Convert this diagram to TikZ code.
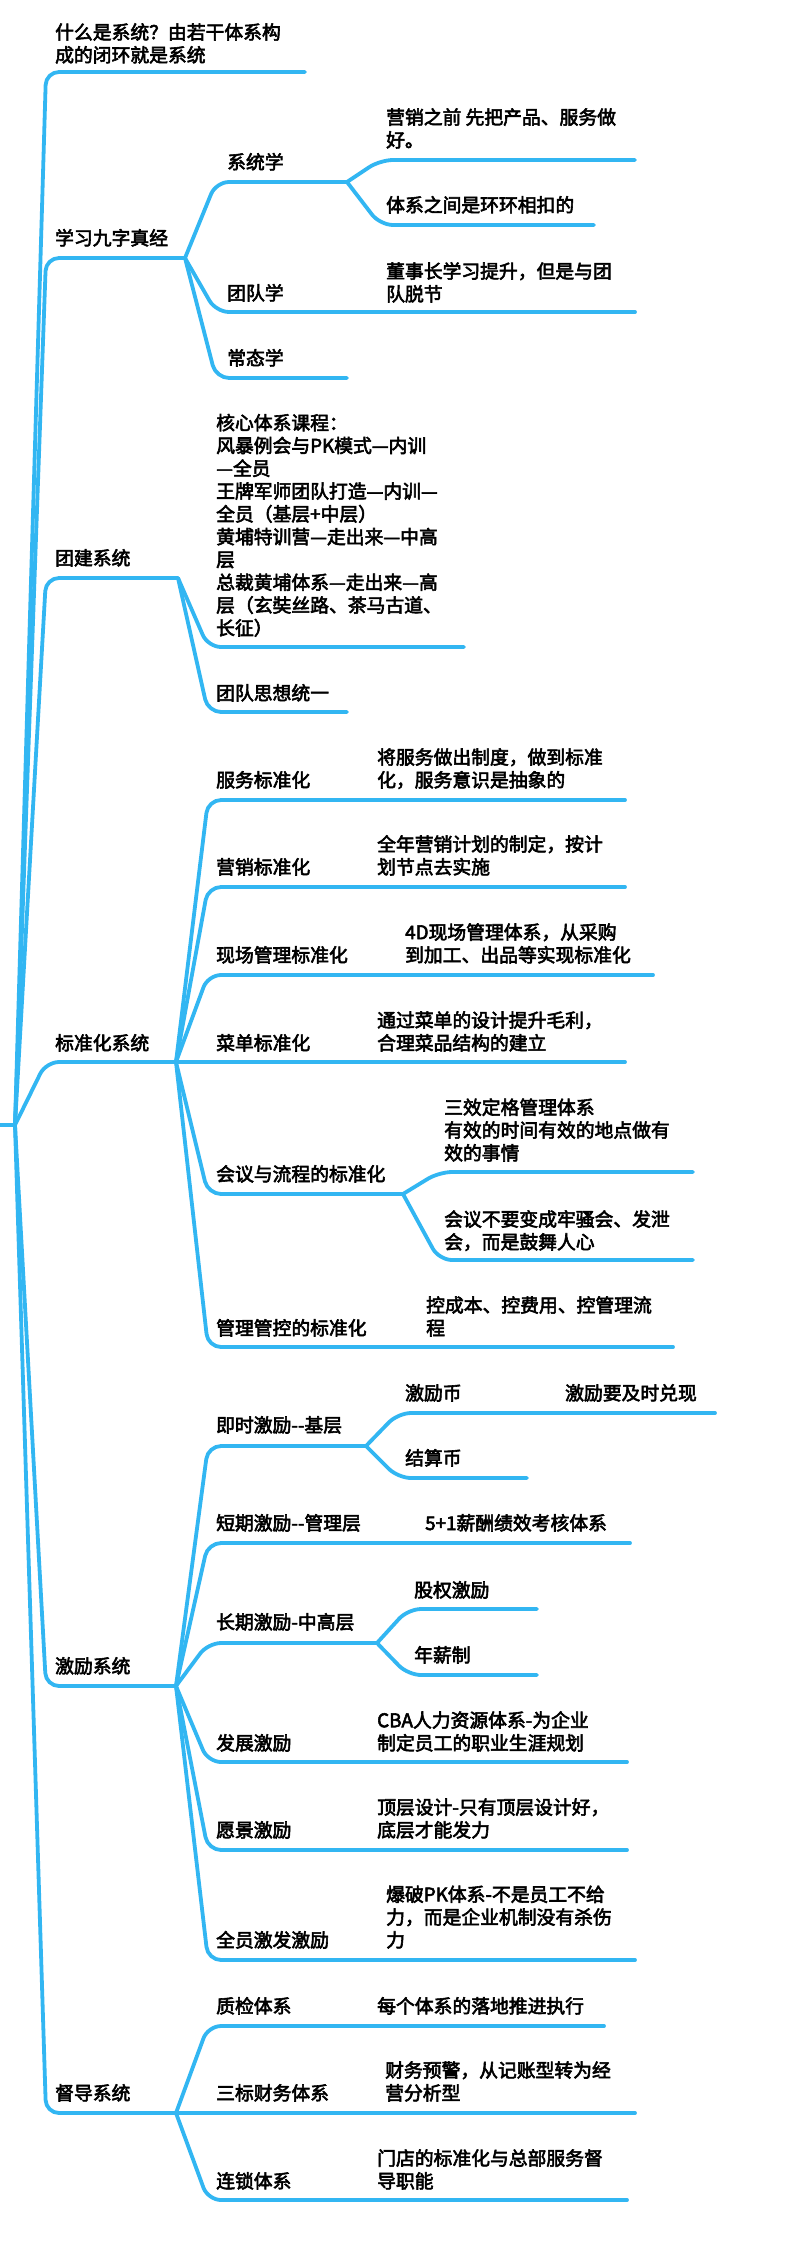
\documentclass[tikz,border=0pt]{standalone}
\usepackage{fontspec}
\setmainfont{Noto Sans CJK SC}[FakeBold=3]
\definecolor{mblue}{RGB}{50,182,242}
\tikzset{
  br/.style={draw=mblue, line width=3.8pt, line cap=round, line join=round, rounded corners=13pt},
  lbl/.style={anchor=base west, inner sep=0pt, align=left, font=\fontsize{18.8}{22.8}\selectfont},
}
\begin{document}
\begin{tikzpicture}[x=1pt,y=-1pt]
\useasboundingbox (0,0) rectangle (800,2264);
\fill[white] (0,0) rectangle (800,2264);

% ---------- coordinates ----------
\coordinate (rootL) at (0,1125);
\coordinate (root) at (15,1125);

\coordinate (a1s) at (46,72);   \coordinate (a1e) at (305,72);
\coordinate (a2s) at (46,258);  \coordinate (a2e) at (185,258);
\coordinate (a3s) at (46,578);  \coordinate (a3e) at (178,578);
\coordinate (a4s) at (46,1062); \coordinate (a4e) at (176,1062);
\coordinate (a5s) at (46,1686); \coordinate (a5e) at (176,1686);
\coordinate (a6s) at (46,2113); \coordinate (a6e) at (176,2113);

\coordinate (b1s) at (216,182); \coordinate (b1e) at (347,182);
\coordinate (b2s) at (216,312); \coordinate (b2e) at (350,312);
\coordinate (b3s) at (216,378); \coordinate (b3e) at (347,378);
\coordinate (c1s) at (380,160); \coordinate (c1e) at (635,160);
\coordinate (c2s) at (380,225); \coordinate (c2e) at (594,225);
\coordinate (c3e) at (635,312);

\coordinate (b4s) at (208,647); \coordinate (b4e) at (464,647);
\coordinate (b5s) at (208,712); \coordinate (b5e) at (347,712);

\coordinate (b6s) at (208,800);  \coordinate (b6e) at (350,800);  \coordinate (c4e) at (625,800);
\coordinate (b7s) at (208,887);  \coordinate (b7e) at (350,887);  \coordinate (c5e) at (625,887);
\coordinate (b8s) at (208,975);  \coordinate (b8e) at (380,975);  \coordinate (c6e) at (653,975);
\coordinate (b9e) at (350,1062); \coordinate (c7e) at (625,1062);
\coordinate (b10s) at (208,1194); \coordinate (b10e) at (403,1194);
\coordinate (c8s) at (439,1172);  \coordinate (c8e) at (693,1172);
\coordinate (c9s) at (439,1260);  \coordinate (c9e) at (693,1260);
\coordinate (b11s) at (208,1347); \coordinate (b11e) at (400,1347); \coordinate (c10e) at (673,1347);

\coordinate (b12s) at (208,1446); \coordinate (b12e) at (366,1446);
\coordinate (c11s) at (398,1413); \coordinate (c11e) at (545,1413); \coordinate (d1e) at (715,1413);
\coordinate (c12s) at (398,1478); \coordinate (c12e) at (527,1478);
\coordinate (b13s) at (208,1543); \coordinate (b13e) at (400,1543); \coordinate (c13e) at (630,1543);
\coordinate (b14s) at (208,1643); \coordinate (b14e) at (377,1643);
\coordinate (c14s) at (408,1609); \coordinate (c14e) at (537,1609);
\coordinate (c15s) at (408,1675); \coordinate (c15e) at (537,1675);
\coordinate (b15s) at (208,1762); \coordinate (b15e) at (350,1762); \coordinate (c16e) at (627,1762);
\coordinate (b16s) at (208,1850); \coordinate (b16e) at (350,1850); \coordinate (c17e) at (627,1850);
\coordinate (b17s) at (208,1960); \coordinate (b17e) at (370,1960); \coordinate (c18e) at (635,1960);

\coordinate (b18s) at (208,2026); \coordinate (b18e) at (350,2026); \coordinate (c19e) at (604,2026);
\coordinate (b19e) at (370,2113); \coordinate (c20e) at (635,2113);
\coordinate (b20s) at (208,2200); \coordinate (b20e) at (350,2200); \coordinate (c21e) at (627,2200);

% ---------- connectors ----------
\draw[br] (rootL) -- (root);
\foreach \k in {1,...,6} { \draw[br] (root) -- (a\k s) -- (a\k e); }

\draw[br] (a2e) -- (b1s) -- (b1e);
\draw[br] (a2e) -- (b2s) -- (b2e);
\draw[br] (a2e) -- (b3s) -- (b3e);
\draw[br] (b1e) -- (c1s) -- (c1e);
\draw[br] (b1e) -- (c2s) -- (c2e);
\draw[br] (b2e) -- (c3e);

\draw[br] (a3e) -- (b4s) -- (b4e);
\draw[br] (a3e) -- (b5s) -- (b5e);

\draw[br] (a4e) -- (b6s) -- (b6e);  \draw[br] (b6e) -- (c4e);
\draw[br] (a4e) -- (b7s) -- (b7e);  \draw[br] (b7e) -- (c5e);
\draw[br] (a4e) -- (b8s) -- (b8e);  \draw[br] (b8e) -- (c6e);
\draw[br] (a4e) -- (b9e);           \draw[br] (b9e) -- (c7e);
\draw[br] (a4e) -- (b10s) -- (b10e);
\draw[br] (b10e) -- (c8s) -- (c8e);
\draw[br] (b10e) -- (c9s) -- (c9e);
\draw[br] (a4e) -- (b11s) -- (b11e); \draw[br] (b11e) -- (c10e);

\draw[br] (a5e) -- (b12s) -- (b12e);
\draw[br] (b12e) -- (c11s) -- (c11e); \draw[br] (c11e) -- (d1e);
\draw[br] (b12e) -- (c12s) -- (c12e);
\draw[br] (a5e) -- (b13s) -- (b13e); \draw[br] (b13e) -- (c13e);
\draw[br] (a5e) -- (b14s) -- (b14e);
\draw[br] (b14e) -- (c14s) -- (c14e);
\draw[br] (b14e) -- (c15s) -- (c15e);
\draw[br] (a5e) -- (b15s) -- (b15e); \draw[br] (b15e) -- (c16e);
\draw[br] (a5e) -- (b16s) -- (b16e); \draw[br] (b16e) -- (c17e);
\draw[br] (a5e) -- (b17s) -- (b17e); \draw[br] (b17e) -- (c18e);

\draw[br] (a6e) -- (b18s) -- (b18e); \draw[br] (b18e) -- (c19e);
\draw[br] (a6e) -- (b19e);           \draw[br] (b19e) -- (c20e);
\draw[br] (a6e) -- (b20s) -- (b20e); \draw[br] (b20e) -- (c21e);

% ---------- texts (position = baseline of the last line) ----------
\node[lbl] (a1) at (55,62) {什么是系统？由若干体系构\\成的闭环就是系统};
\node[lbl] (a2) at (55,245) {学习九字真经};
\node[lbl] (a3) at (55,565) {团建系统};
\node[lbl] (a4) at (55,1050) {标准化系统};
\node[lbl] (a5) at (55,1673) {激励系统};
\node[lbl] (a6) at (55,2100) {督导系统};

\node[lbl] (b1) at (227,169) {系统学};
\node[lbl] (b2) at (227,300) {团队学};
\node[lbl] (b3) at (227,365) {常态学};
\node[lbl] (c1) at (386,147) {营销之前 先把产品、服务做\\好。};
\node[lbl] (c2) at (386,212) {体系之间是环环相扣的};
\node[lbl] (c3) at (386,301) {董事长学习提升，但是与团\\队脱节};

\node[lbl] (b4) at (216,635) {核心体系课程：\\风暴例会与PK模式—内训\\—全员\\王牌军师团队打造—内训—\\全员（基层+中层）\\黄埔特训营—走出来—中高\\层\\总裁黄埔体系—走出来—高\\层（玄奘丝路、茶马古道、\\长征）};
\node[lbl] (b5) at (216,700) {团队思想统一};

\node[lbl] (b6) at (216,787) {服务标准化};
\node[lbl] (c4) at (377,787) {将服务做出制度，做到标准\\化，服务意识是抽象的};
\node[lbl] (b7) at (216,874) {营销标准化};
\node[lbl] (c5) at (377,874) {全年营销计划的制定，按计\\划节点去实施};
\node[lbl] (b8) at (216,962) {现场管理标准化};
\node[lbl] (c6) at (405,962) {4D现场管理体系，从采购\\到加工、出品等实现标准化};
\node[lbl] (b9) at (216,1050) {菜单标准化};
\node[lbl] (c7) at (377,1050) {通过菜单的设计提升毛利，\\合理菜品结构的建立};
\node[lbl] (b10) at (216,1181) {会议与流程的标准化};
\node[lbl] (c8) at (444,1160) {三效定格管理体系\\有效的时间有效的地点做有\\效的事情};
\node[lbl] (c9) at (444,1249) {会议不要变成牢骚会、发泄\\会，而是鼓舞人心};
\node[lbl] (b11) at (216,1335) {管理管控的标准化};
\node[lbl] (c10) at (426,1335) {控成本、控费用、控管理流\\程};

\node[lbl] (b12) at (216,1432) {即时激励-{}-基层};
\node[lbl] (c11) at (405,1400) {激励币};
\node[lbl] (d1) at (565,1400) {激励要及时兑现};
\node[lbl] (c12) at (405,1465) {结算币};
\node[lbl] (b13) at (216,1530) {短期激励-{}-管理层};
\node[lbl] (c13) at (425,1530) {5+1薪酬绩效考核体系};
\node[lbl] (b14) at (216,1629) {长期激励-中高层};
\node[lbl] (c14) at (414,1597) {股权激励};
\node[lbl] (c15) at (414,1662) {年薪制};
\node[lbl] (b15) at (216,1750) {发展激励};
\node[lbl] (c16) at (377,1750) {CBA人力资源体系-为企业\\制定员工的职业生涯规划};
\node[lbl] (b16) at (216,1837) {愿景激励};
\node[lbl] (c17) at (377,1837) {顶层设计-只有顶层设计好，\\底层才能发力};
\node[lbl] (b17) at (216,1947) {全员激发激励};
\node[lbl] (c18) at (386,1947) {爆破PK体系-不是员工不给\\力，而是企业机制没有杀伤\\力};

\node[lbl] (b18) at (216,2013) {质检体系};
\node[lbl] (c19) at (377,2013) {每个体系的落地推进执行};
\node[lbl] (b19) at (216,2100) {三标财务体系};
\node[lbl] (c20) at (385,2100) {财务预警，从记账型转为经\\营分析型};
\node[lbl] (b20) at (216,2188) {连锁体系};
\node[lbl] (c21) at (377,2188) {门店的标准化与总部服务督\\导职能};
\end{tikzpicture}
\end{document}
